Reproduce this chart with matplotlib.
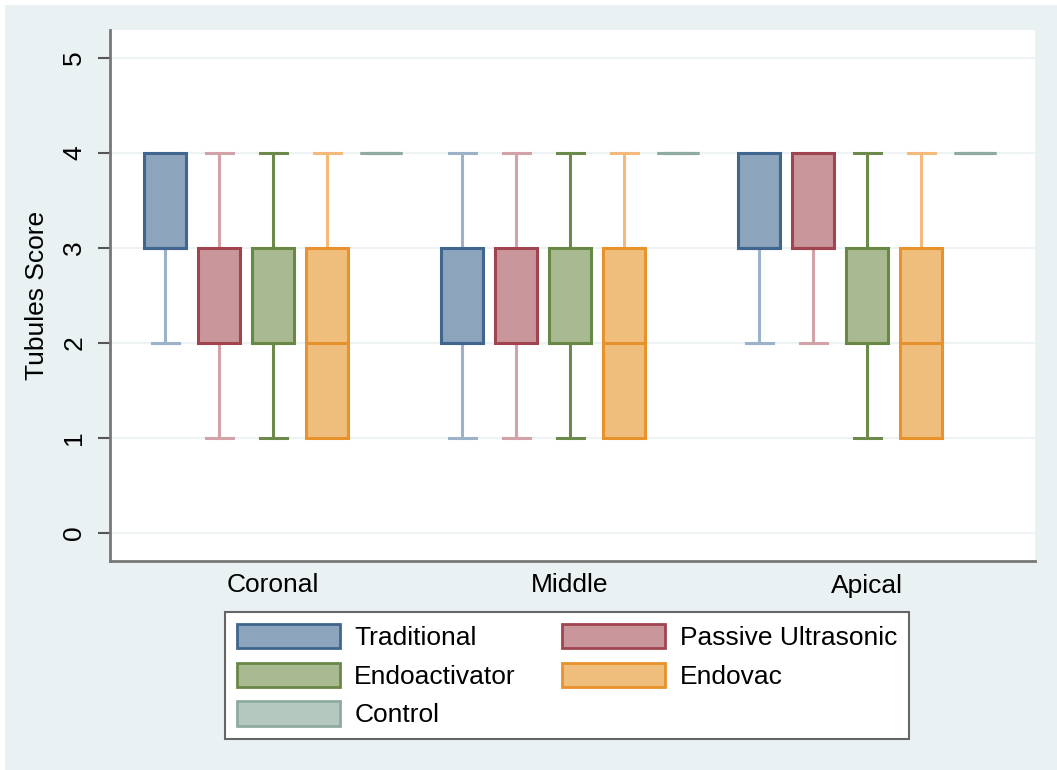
import matplotlib
matplotlib.use("Agg")
import matplotlib.pyplot as plt
from matplotlib.patches import Rectangle, Patch

plt.rcParams['font.family'] = ['Liberation Sans', 'DejaVu Sans']

# data
sections = ['Coronal', 'Middle', 'Apical']
groups = ['Traditional', 'Passive Ultrasonic', 'Endoactivator', 'Endovac', 'Control']
# (whislo, q1, med, q3, whishi) per section, per group
coronal = [(2, 3, 3, 4, 4), (1, 2, 2, 3, 4), (1, 2, 2, 3, 4), (1, 1, 2, 3, 4), (4, 4, 4, 4, 4)]
middle = [(1, 2, 2, 3, 4), (1, 2, 2, 3, 4), (1, 2, 2, 3, 4), (1, 1, 2, 3, 4), (4, 4, 4, 4, 4)]
apical = [(2, 3, 3, 4, 4), (2, 3, 3, 4, 4), (1, 2, 2, 3, 4), (1, 1, 2, 3, 4), (4, 4, 4, 4, 4)]
yticks = [0, 1, 2, 3, 4, 5]

fills = ['#8ca4bc', '#c9969c', '#a9ba92', '#f0be7c', '#b5c8c0']
edges = ['#40668f', '#a04450', '#688946', '#e8922c', '#8faa9e']
whisk = ['#9cb2c9', '#d3a1a8', '#6c8b4b', '#f5b97c', '#8faa9e']
medcol = ['#40668f', '#a04450', '#688946', '#e3922e', '#8faa9e']

bg = '#e9f1f3'
fs = 19
fig = plt.figure(figsize=(10.57, 7.70), dpi=100, facecolor='white')
fig.patches.append(Rectangle((5 / 1057, 0), 1, 1 - 5 / 770, transform=fig.transFigure,
                             facecolor=bg, edgecolor='none', zorder=-10))
ax = fig.add_axes([110 / 1057, 1 - 561 / 770, 925 / 1057, 531 / 770])
ax.set_facecolor('white')

for si, data in enumerate([coronal, middle, apical]):
    for gi, (lo, q1, med, q3, hi) in enumerate(data):
        pos = si * 5.5 + gi
        st = [dict(whislo=lo, q1=q1, med=med, q3=q3, whishi=hi, fliers=[])]
        ax.bxp(st, positions=[pos], widths=0.78, patch_artist=True, showfliers=False,
               capwidths=[0.5],
               boxprops=dict(facecolor=fills[gi], edgecolor=edges[gi], linewidth=2.2, zorder=4),
               whiskerprops=dict(color=whisk[gi], linewidth=2.2, zorder=3),
               capprops=dict(color=whisk[gi], linewidth=2.2, zorder=3),
               medianprops=dict(color=medcol[gi], linewidth=2.2, zorder=5),
               manage_ticks=False)

ax.set_xlim(-1.02, 16.11)
ax.set_ylim(-0.295, 5.295)
ax.set_yticks(yticks)
ax.set_yticklabels([str(t) for t in yticks], rotation=90, va='center', fontsize=fs)
ax.yaxis.grid(True, color='#edf2f4', linewidth=1.5)
ax.set_axisbelow(True)
ax.set_xticks([si * 5.5 + 2 for si in range(3)])
ax.set_xticklabels(sections, fontsize=fs)
ax.tick_params(axis='x', length=0, pad=9)
ax.tick_params(axis='y', length=9, width=1.5, color='#555555', pad=8)
for s in ['top', 'right']:
    ax.spines[s].set_visible(False)
for s in ['left', 'bottom']:
    ax.spines[s].set_color('#777777')
    ax.spines[s].set_linewidth(2)
ax.set_ylabel('Tubules Score', fontsize=fs, labelpad=10)

order = [0, 2, 4, 1, 3]
handles = [Patch(facecolor=fills[i], edgecolor=edges[i], linewidth=2, label=groups[i]) for i in order]
leg = fig.legend(handles=handles, ncol=2, loc='upper left',
                 bbox_to_anchor=(225 / 1057, 1 - 612 / 770), fontsize=fs,
                 handlelength=3.9, handleheight=1.05, handletextpad=0.55,
                 columnspacing=1.75, labelspacing=0.47, borderpad=0.45,
                 borderaxespad=0, fancybox=False, framealpha=1)
leg.get_frame().set_edgecolor('#666666')
leg.get_frame().set_linewidth(1.5)

fig.savefig('out.png', dpi=100, facecolor=fig.get_facecolor())
